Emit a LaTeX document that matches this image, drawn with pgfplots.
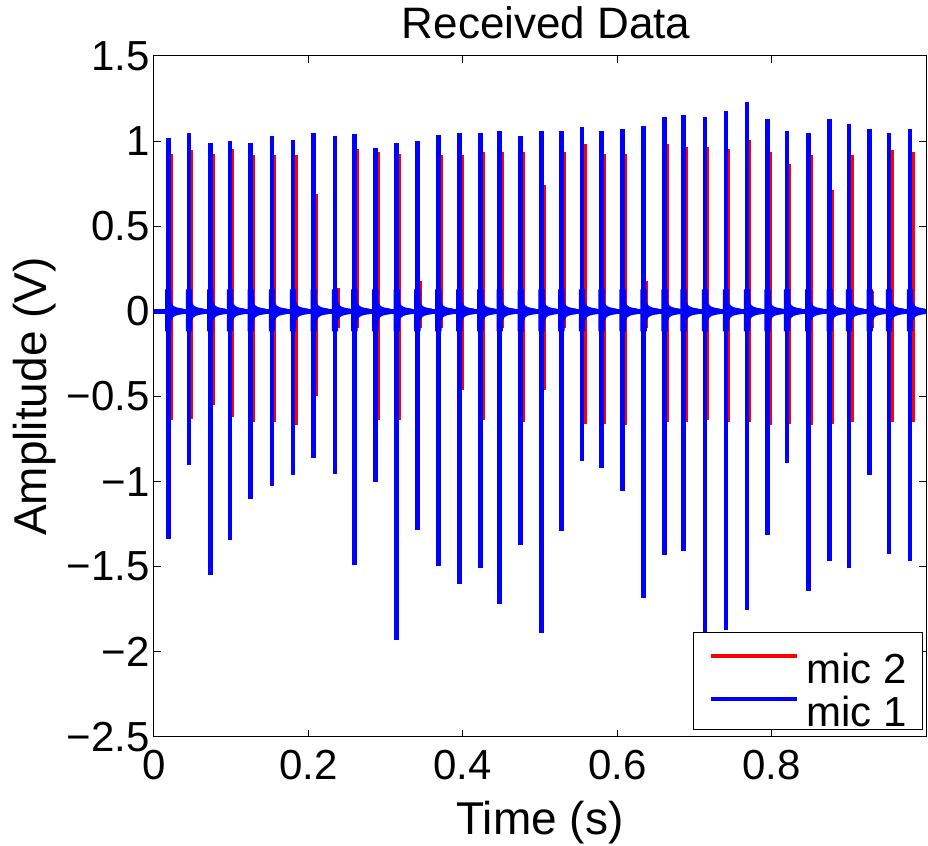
\documentclass[border=0pt]{standalone}
\usepackage{pgfplots}
\usepackage{pgfplotstable}
\usepackage{fontspec}
\setmainfont{Liberation Sans}
\pgfplotsset{compat=1.18}
\pgfdeclareplotmark{ring}{%
  \pgfpathmoveto{\pgfqpoint{-1.6pt}{11pt}}%
  \pgfpathlineto{\pgfqpoint{1.6pt}{11pt}}%
  \pgfpathlineto{\pgfqpoint{1.6pt}{4.5pt}}%
  \pgfpathcurveto{\pgfqpoint{2.2pt}{2.2pt}}{\pgfqpoint{4pt}{1.8pt}}{\pgfqpoint{7.5pt}{1.4pt}}%
  \pgfpathlineto{\pgfqpoint{7.5pt}{-1.4pt}}%
  \pgfpathcurveto{\pgfqpoint{4pt}{-1.8pt}}{\pgfqpoint{2.2pt}{-2.2pt}}{\pgfqpoint{1.6pt}{-4.5pt}}%
  \pgfpathlineto{\pgfqpoint{1.6pt}{-10pt}}%
  \pgfpathlineto{\pgfqpoint{-1.6pt}{-10pt}}%
  \pgfpathclose
  \pgfusepathqfill}

\pgfplotstableread{
t peak trough base
0.0185 1.018 -1.335 0
0.0453 1.050 -0.900 0
0.0729 0.989 -1.551 0
0.0984 1.001 -1.345 0
0.1253 0.989 -1.100 0
0.1528 1.030 -1.028 0
0.1801 1.009 -0.963 0
0.2069 1.050 -0.862 0
0.2345 1.030 -0.953 0
0.2595 1.040 -1.492 0
0.2867 0.959 -1.003 0
0.3144 0.989 -1.933 0
0.3411 0.999 -1.286 0
0.3683 1.038 -1.498 0
0.3955 1.050 -1.600 0
0.4227 1.050 -1.506 0
0.4478 1.061 -1.721 0
0.4750 1.030 -1.374 0
0.5022 1.061 -1.889 0
0.5276 1.061 -1.290 0
0.5544 1.083 -0.881 0
0.5799 1.061 -0.920 0
0.6071 1.071 -1.055 0
0.6343 1.091 -1.684 0
0.6615 1.144 -1.429 0
0.6861 1.155 -1.408 0
0.7137 1.144 -2.250 0
0.7409 1.175 -1.874 0
0.7681 1.228 -1.756 0
0.7949 1.132 -1.316 0
0.8199 1.061 -0.891 0
0.8475 1.050 -1.643 0
0.8753 1.132 -1.468 0
0.9003 1.102 -1.506 0
0.9271 1.071 -0.963 0
0.9521 1.050 -1.427 0
0.9793 1.071 -1.468 0
}\bluedata

\pgfplotstableread{
t peak trough
0.0215 0.926 -0.64
0.0483 0.950 -0.63
0.0759 0.926 -0.55
0.1014 0.955 -0.62
0.1283 0.916 -0.65
0.1558 0.916 -0.65
0.1831 0.916 -0.67
0.2099 0.690 -0.50
0.2375 0.140 -0.10
0.2625 0.955 -0.10
0.2897 0.935 -0.64
0.3174 0.926 -0.64
0.3441 0.180 -0.10
0.3713 0.916 -0.10
0.3985 0.916 -0.46
0.4257 0.936 -0.64
0.4508 0.936 -0.10
0.4780 0.936 -0.65
0.5052 0.740 -0.46
0.5306 0.936 -0.10
0.5574 0.981 -0.66
0.5829 0.926 -0.66
0.6101 0.926 -0.67
0.6373 0.180 -0.10
0.6645 0.985 -0.65
0.6891 0.965 -0.65
0.7167 0.965 -0.64
0.7439 0.955 -0.65
0.7711 1.008 -0.65
0.7979 0.936 -0.67
0.8229 0.867 -0.66
0.8505 0.916 -0.67
0.8783 0.711 -0.66
0.9033 0.916 -0.65
0.9301 0.120 -0.10
0.9551 0.950 -0.65
0.9823 0.936 -0.65
}\reddata

\begin{document}
\begin{tikzpicture}
\begin{axis}[
  name=ax,
  scale only axis,
  width=386pt, height=340.5pt,
  xmin=0, xmax=1, ymin=-2.5, ymax=1.5,
  axis line style={black, line width=0.5pt},
  tick style={black, line width=0.5pt},
  major tick length=3.5pt,
  xtick={0,0.2,0.4,0.6,0.8},
  xticklabels={0,0.2,0.4,0.6,0.8},
  ytick={-2.5,-2,-1.5,-1,-0.5,0,0.5,1,1.5},
  yticklabels={−2.5,−2,−1.5,−1,−0.5,0,0.5,1,1.5},
  ticklabel style={font=\fontsize{21}{25}\selectfont},
  xticklabel style={anchor=base, yshift=-21.5pt, inner sep=0pt},
  yticklabel style={inner sep=2pt},
  title={Received Data},
  title style={font=\fontsize{22}{26}\selectfont, at={(axis description cs:0.508,1.0074)}, anchor=base},
  xlabel={Time (s)},
  xlabel style={font=\fontsize{23}{27}\selectfont, at={(axis description cs:0.5,-0.1439)}, anchor=base},
  ylabel={Amplitude (V)},
  ylabel style={font=\fontsize{23}{27}\selectfont, at={(axis description cs:-0.154,0.5)}, anchor=center, rotate=0},
  legend image code/.code={\draw[#1, line width=2pt] (0pt,13.5pt) -- (43pt,13.5pt);},
  legend style={at={(1,0)}, anchor=south east, xshift=-1.5pt, yshift=3.5pt,
    draw=black, line width=0.5pt, fill=white,
    font=\fontsize{21}{25}\selectfont,
    inner ysep=0pt, inner xsep=8pt, row sep=0pt, column sep=3.5pt,
    nodes={inner sep=0pt, anchor=base west}},
]
\addplot[red, line width=2pt] coordinates {(0,0) (1,0)};
\addlegendentry{\rule{0pt}{25.5pt}mic 2}
\addplot[ycomb, red, line width=2.2pt, forget plot] table[x=t, y=peak] {\reddata};
\addplot[ycomb, red, line width=2.2pt, forget plot] table[x=t, y=trough] {\reddata};
\addplot[blue, line width=2.8pt] coordinates {(0,0) (1,0)};
\addlegendentry{\rule{0pt}{20pt}mic 1}
\addplot[ycomb, blue, line width=2.3pt, forget plot] table[x=t, y=peak] {\bluedata};
\addplot[ycomb, blue, line width=2.3pt, forget plot] table[x=t, y=trough] {\bluedata};
\addplot[only marks, mark=ring, blue, forget plot] table[x=t, y=base] {\bluedata};
\end{axis}
\pgfresetboundingbox
\path ([xshift=-77pt, yshift=-54.5pt]ax.south west) rectangle ([xshift=1pt, yshift=28pt]ax.north east);
\end{tikzpicture}
\end{document}
